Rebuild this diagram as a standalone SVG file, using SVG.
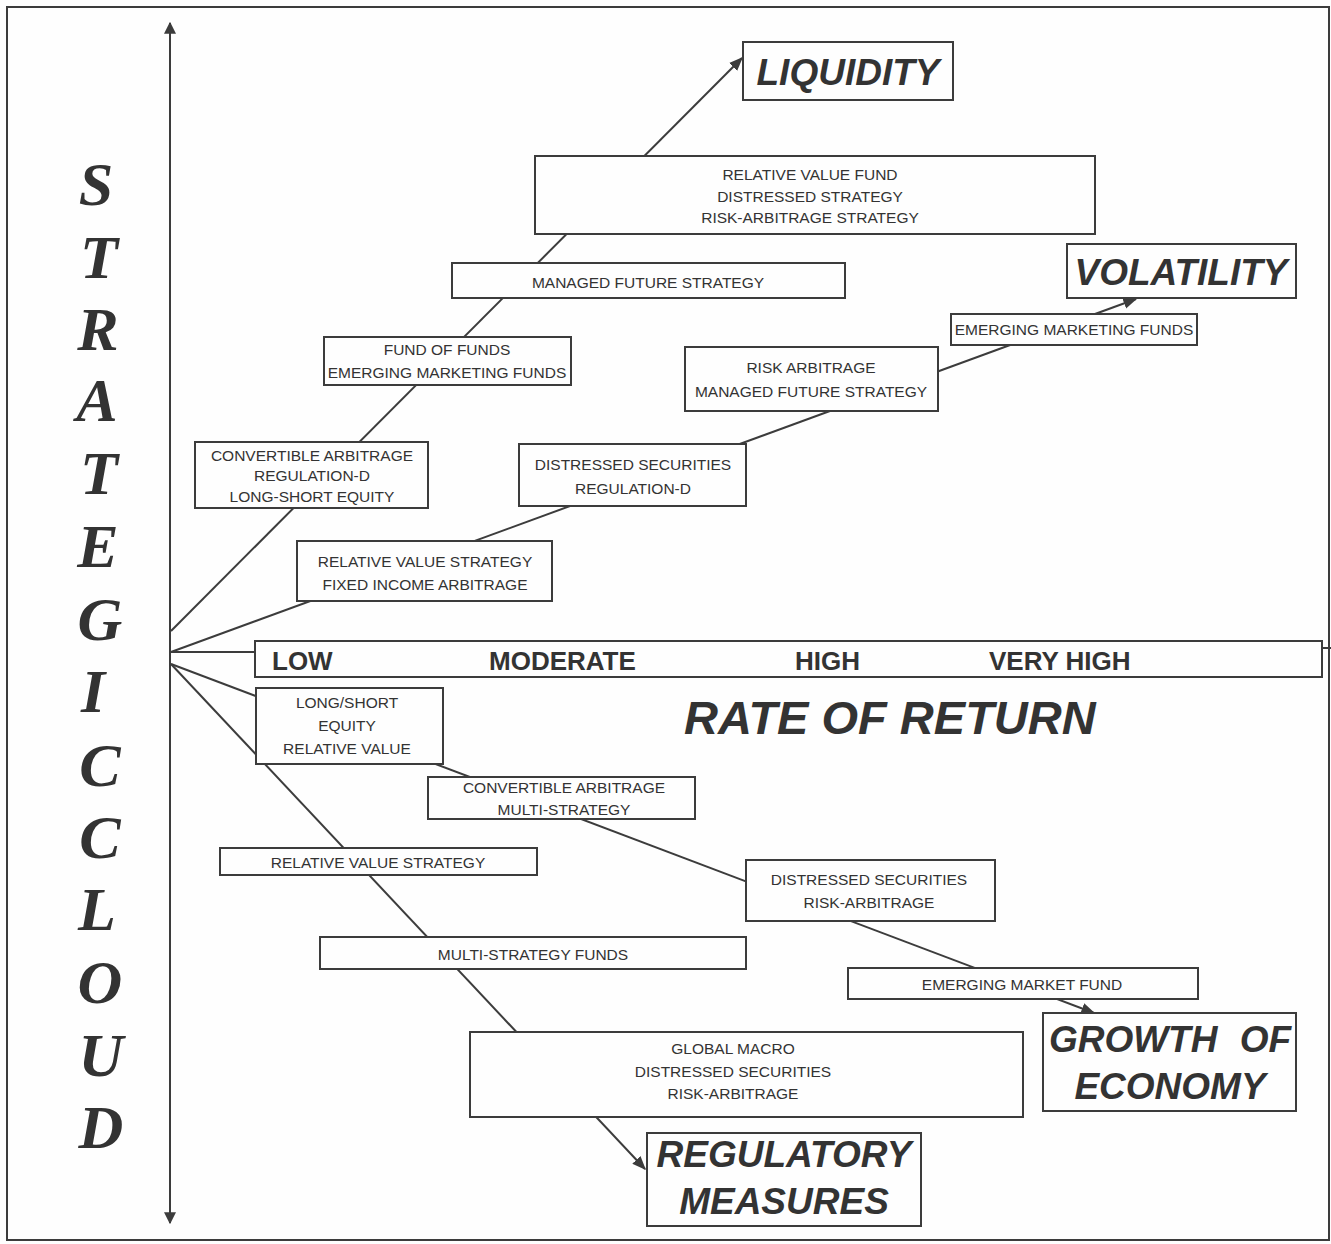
<svg xmlns="http://www.w3.org/2000/svg" width="1331" height="1244" viewBox="0 0 1331 1244">
<defs>
<style>
.bx{fill:#fefefe;stroke:#3c3c3c;stroke-width:2}
.ln{fill:none;stroke:#3c3c3c;stroke-width:2}
.t{font-family:"Liberation Sans",Arial,sans-serif;font-size:15.5px;fill:#333;text-anchor:middle}
.big{font-family:"Liberation Sans",Arial,sans-serif;font-size:37px;font-weight:bold;font-style:italic;fill:#333;text-anchor:middle}
.scale{font-family:"Liberation Sans",Arial,sans-serif;font-size:26px;font-weight:bold;fill:#333}
.v{font-family:"Liberation Serif","Times New Roman",serif;font-size:62px;font-weight:bold;font-style:italic;fill:#333;text-anchor:middle}
</style>
<marker id="ah" viewBox="0 0 10 10" refX="9" refY="5" markerWidth="7" markerHeight="7" markerUnits="strokeWidth" orient="auto">
<path d="M0,1 L10,5 L0,9 z" fill="#3c3c3c"/>
</marker>
<marker id="axh" viewBox="0 0 10 10" refX="9" refY="5" markerWidth="6" markerHeight="6" markerUnits="strokeWidth" orient="auto">
<path d="M0,0 L10,5 L0,10 z" fill="#3c3c3c"/>
</marker>
</defs>
<rect x="0" y="0" width="1331" height="1244" fill="#fefefe"/>
<rect x="7" y="7" width="1322" height="1233" fill="none" stroke="#3c3c3c" stroke-width="2"/>

<g id="title">
<text class="v" x="96" y="205">S</text>
<text class="v" x="99" y="278">T</text>
<text class="v" x="98" y="350">R</text>
<text class="v" x="97" y="421">A</text>
<text class="v" x="99" y="494">T</text>
<text class="v" x="98" y="567">E</text>
<text class="v" x="100" y="640">G</text>
<text class="v" x="93" y="712">I</text>
<text class="v" x="100" y="786">C</text>
<text class="v" x="100" y="858">C</text>
<text class="v" x="97" y="930">L</text>
<text class="v" x="100" y="1003">O</text>
<text class="v" x="101" y="1076">U</text>
<text class="v" x="101" y="1148">D</text>
</g>

<g id="connectors">
<line class="ln" x1="170" y1="1222" x2="170" y2="23" marker-end="url(#axh)"/>
<line class="ln" x1="170" y1="40" x2="170" y2="1223" marker-end="url(#axh)"/>
<line class="ln" x1="171" y1="631" x2="742" y2="58" marker-end="url(#ah)"/>
<line class="ln" x1="171" y1="652" x2="1136" y2="299" marker-end="url(#ah)"/>
<line class="ln" x1="171" y1="652" x2="256" y2="652"/>
<line class="ln" x1="1322" y1="648" x2="1331" y2="648"/>
<line class="ln" x1="171" y1="664" x2="1094" y2="1013" marker-end="url(#ah)"/>
<line class="ln" x1="171" y1="664" x2="645" y2="1169" marker-end="url(#ah)"/>
</g>

<g id="liquidity">
<rect class="bx" x="743" y="42" width="210" height="58"/>
<text class="big" x="848" y="85">LIQUIDITY</text>
</g>
<g id="rv-fund">
<rect class="bx" x="535" y="156" width="560" height="78"/>
<text class="t" x="810" y="180">RELATIVE  VALUE FUND</text>
<text class="t" x="810" y="202">DISTRESSED  STRATEGY</text>
<text class="t" x="810" y="223">RISK-ARBITRAGE STRATEGY</text>
</g>
<g id="managed-future">
<rect class="bx" x="452" y="263" width="393" height="35"/>
<text class="t" x="648" y="288">MANAGED FUTURE STRATEGY</text>
</g>
<g id="fund-of-funds">
<rect class="bx" x="324" y="337" width="247" height="48"/>
<text class="t" x="447" y="355">FUND OF  FUNDS</text>
<text class="t" x="447" y="378">EMERGING MARKETING FUNDS</text>
</g>
<g id="convertible">
<rect class="bx" x="195" y="442" width="233" height="66"/>
<text class="t" x="312" y="461">CONVERTIBLE ARBITRAGE</text>
<text class="t" x="312" y="481">REGULATION-D</text>
<text class="t" x="312" y="502">LONG-SHORT EQUITY</text>
</g>
<g id="rv-strategy-up">
<rect class="bx" x="297" y="541" width="255" height="60"/>
<text class="t" x="425" y="567">RELATIVE VALUE STRATEGY</text>
<text class="t" x="425" y="590">FIXED INCOME ARBITRAGE</text>
</g>
<g id="distressed-up">
<rect class="bx" x="519" y="444" width="227" height="62"/>
<text class="t" x="633" y="470">DISTRESSED SECURITIES</text>
<text class="t" x="633" y="494">REGULATION-D</text>
</g>
<g id="risk-arb-up">
<rect class="bx" x="685" y="347" width="253" height="64"/>
<text class="t" x="811" y="373">RISK ARBITRAGE</text>
<text class="t" x="811" y="397">MANAGED FUTURE STRATEGY</text>
</g>
<g id="emerging-up">
<rect class="bx" x="951" y="314" width="246" height="31"/>
<text class="t" x="1074" y="335">EMERGING MARKETING FUNDS</text>
</g>
<g id="volatility">
<rect class="bx" x="1067" y="244" width="229" height="54"/>
<text class="big" x="1181" y="285">VOLATILITY</text>
</g>

<g id="rate-scale">
<rect class="bx" x="255" y="641" width="1067" height="36"/>
<text class="scale" x="272" y="670">LOW</text>
<text class="scale" x="489" y="670">MODERATE</text>
<text class="scale" x="795" y="670">HIGH</text>
<text class="scale" x="989" y="670">VERY HIGH</text>
</g>
<g id="rate-of-return">
<text x="684" y="734" font-family="'Liberation Sans',Arial,sans-serif" font-size="47" font-weight="bold" font-style="italic" fill="#333">RATE OF RETURN</text>
</g>

<g id="long-short">
<rect class="bx" x="256" y="688" width="187" height="76"/>
<text class="t" x="347" y="708">LONG/SHORT</text>
<text class="t" x="347" y="731">EQUITY</text>
<text class="t" x="347" y="754">RELATIVE VALUE</text>
</g>
<g id="convertible-down">
<rect class="bx" x="428" y="777" width="267" height="42"/>
<text class="t" x="564" y="793">CONVERTIBLE ARBITRAGE</text>
<text class="t" x="564" y="815">MULTI-STRATEGY</text>
</g>
<g id="rv-strategy-down">
<rect class="bx" x="220" y="848" width="317" height="27"/>
<text class="t" x="378" y="868">RELATIVE VALUE STRATEGY</text>
</g>
<g id="multi-strategy">
<rect class="bx" x="320" y="937" width="426" height="32"/>
<text class="t" x="533" y="960">MULTI-STRATEGY FUNDS</text>
</g>
<g id="distressed-down">
<rect class="bx" x="746" y="860" width="249" height="61"/>
<text class="t" x="869" y="885">DISTRESSED SECURITIES</text>
<text class="t" x="869" y="908">RISK-ARBITRAGE</text>
</g>
<g id="emerging-down">
<rect class="bx" x="848" y="968" width="350" height="31"/>
<text class="t" x="1022" y="990">EMERGING MARKET FUND</text>
</g>
<g id="growth">
<rect class="bx" x="1043" y="1013" width="253" height="98"/>
<text class="big" x="1170" y="1052" word-spacing="12">GROWTH OF</text>
<text class="big" x="1170" y="1099">ECONOMY</text>
</g>
<g id="global-macro">
<rect class="bx" x="470" y="1032" width="553" height="85"/>
<text class="t" x="733" y="1054">GLOBAL MACRO</text>
<text class="t" x="733" y="1077">DISTRESSED SECURITIES</text>
<text class="t" x="733" y="1099">RISK-ARBITRAGE</text>
</g>
<g id="regulatory">
<rect class="bx" x="647" y="1133" width="274" height="93"/>
<text class="big" x="784" y="1167">REGULATORY</text>
<text class="big" x="784" y="1214">MEASURES</text>
</g>
</svg>
